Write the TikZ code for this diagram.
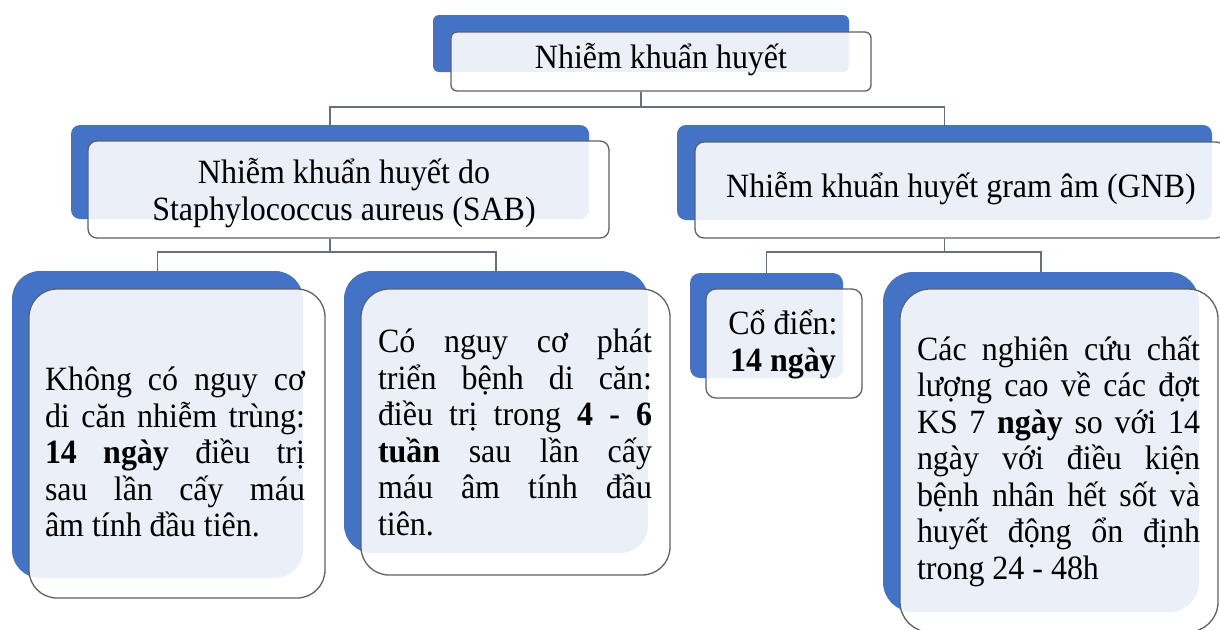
\documentclass[tikz,border=0pt]{standalone}
\usepackage{fontspec}
\setmainfont{Liberation Serif}[FakeStretch=0.94]
\usetikzlibrary{calc}
\definecolor{backblue}{HTML}{4472C4}
\definecolor{edgegray}{HTML}{5C6268}
\definecolor{conngray}{HTML}{66707C}
\newcommand{\jl}[2]{\makebox[#1][s]{#2}}
\tikzset{
  backbox/.style={rectangle, fill=backblue, draw=none, inner sep=0pt},
  frontbox/.style={rectangle, fill=white, fill opacity=0.89, draw=edgegray, line width=1.3pt, inner sep=0pt},
  conn/.style={draw=conngray, line width=1.3pt},
  txt/.style={font=\fontsize{34}{36.5}\selectfont, inner sep=0pt, align=center},
}
\begin{document}
\begin{tikzpicture}[x=1pt,y=-1pt]
\fill[white] (0,0) rectangle (1220,629);
\useasboundingbox (0,0) rectangle (1220,629);

% top
\node[backbox, rounded corners=6pt, minimum width=416pt, minimum height=57pt] (topB) at (641,43.5) {};
\node[frontbox, rounded corners=6pt, minimum width=420pt, minimum height=59pt] (topF) at (661,61.5) {};
\node[txt] (topT) at (661,60) {Nhiễm khuẩn huyết};

% SAB
\node[backbox, rounded corners=9pt, minimum width=518pt, minimum height=94pt] (sabB) at (330,172) {};
\node[frontbox, rounded corners=9pt, minimum width=521pt, minimum height=97pt] (sabF) at (348.5,189.5) {};
\node[txt] (sabT) at (344,193) {Nhiễm khuẩn huyết do\\Staphylococcus aureus (SAB)};

% GNB
\node[backbox, rounded corners=9pt, minimum width=535pt, minimum height=95pt] (gnbB) at (944.5,172.5) {};
\node[frontbox, rounded corners=9pt, minimum width=530pt, minimum height=96pt] (gnbF) at (960,190) {};
\node[txt] (gnbT) at (961,189) {Nhiễm khuẩn huyết gram âm (GNB)};

% box 1
\node[backbox, rounded corners=28pt, minimum width=291pt, minimum height=307pt] (b1B) at (157.5,424.5) {};
\node[frontbox, rounded corners=28pt, minimum width=296pt, minimum height=309pt] (b1F) at (177,443.5) {};
\node[txt, align=left] (b1T) at (175,452) {\jl{260pt}{Không có nguy cơ}\\
\jl{260pt}{di căn nhiễm trùng:}\\
\jl{260pt}{\textbf{14 ngày} điều trị}\\
\jl{260pt}{sau lần cấy máu}\\
âm tính đầu tiên.};

% box 2
\node[backbox, rounded corners=28pt, minimum width=304pt, minimum height=282pt] (b2B) at (496,412) {};
\node[frontbox, rounded corners=28pt, minimum width=309pt, minimum height=286pt] (b2F) at (515.5,432) {};
\node[txt, align=left] (b2T) at (515,432.5) {\jl{274pt}{Có nguy cơ phát}\\
\jl{274pt}{triển bệnh di căn:}\\
\jl{274pt}{điều trị trong \textbf{4 - 6}}\\
\jl{274pt}{\textbf{tuần} sau lần cấy}\\
\jl{274pt}{máu âm tính đầu}\\
tiên.};

% box 3
\node[backbox, rounded corners=10pt, minimum width=153pt, minimum height=105pt] (b3B) at (766.5,325.5) {};
\node[frontbox, rounded corners=10pt, minimum width=156pt, minimum height=109pt] (b3F) at (784,343.5) {};
\node[txt] (b3T) at (783,344.5) {Cổ điển:\\\textbf{14 ngày}};

% box 4
\node[backbox, rounded corners=30pt, minimum width=316pt, minimum height=340pt] (b4B) at (1041,442) {};
\node[frontbox, rounded corners=30pt, minimum width=318pt, minimum height=343pt] (b4F) at (1059,460.5) {};
\node[txt, align=left] (b4T) at (1058.5,461) {\jl{283pt}{Các nghiên cứu chất}\\
\jl{283pt}{lượng cao về các đợt}\\
\jl{283pt}{KS 7 \textbf{ngày} so với 14}\\
\jl{283pt}{ngày với điều kiện}\\
\jl{283pt}{bệnh nhân hết sốt và}\\
\jl{283pt}{huyết động ổn định}\\
trong 24 - 48h};

% connectors
\coordinate (j1) at (641,107);
\coordinate (j2) at (330,252);
\coordinate (j3) at (944.5,252);
\draw[conn] (topB.south |- topF.south) -- (j1);
\draw[conn] (j1) -| (sabB.north);
\draw[conn] (j1) -| (gnbB.north);
\draw[conn] (sabB.south |- sabF.south) -- (j2);
\draw[conn] (j2) -| (b1B.north);
\draw[conn] (j2) -| (b2B.north);
\draw[conn] (gnbB.south |- gnbF.south) -- (j3);
\draw[conn] (j3) -| (b3B.north);
\draw[conn] (j3) -| (b4B.north);
\end{tikzpicture}
\end{document}
